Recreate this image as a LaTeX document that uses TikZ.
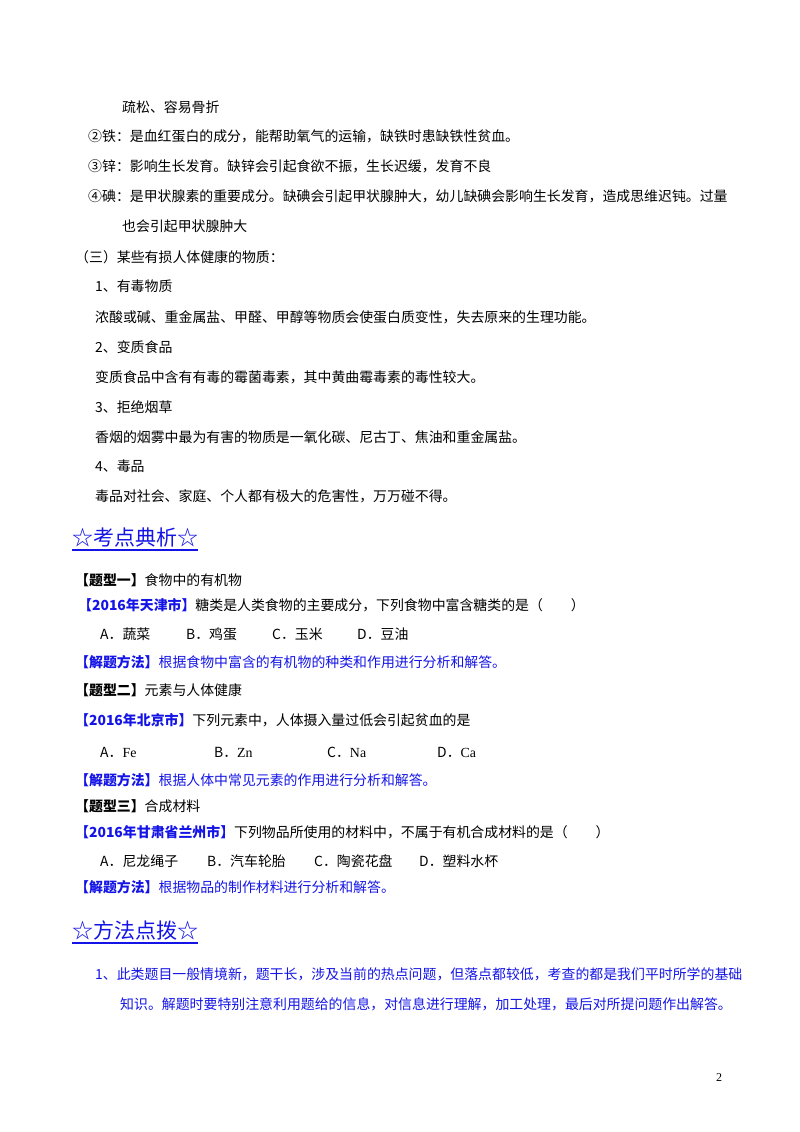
\documentclass[tikz,border=0pt]{standalone}
\usepackage{fontspec}
\setmainfont{Noto Sans CJK SC}
\newfontfamily\numf{Liberation Serif}
\definecolor{qblue}{RGB}{20,20,230}
\tikzset{t/.style={anchor=west,inner sep=0pt,font=\fontsize{13.9}{16}\selectfont},
bt/.style={t,text=qblue},
hd/.style={anchor=west,inner sep=0pt,text=qblue,font=\fontsize{21}{24}\selectfont}}
\begin{document}
\begin{tikzpicture}[x=1pt,y=-1pt]
\useasboundingbox (0,0) rectangle (800,1132);
\node[t] (l1) at (122,107) {疏松、容易骨折};
\node[t] (l2) at (88,136) {②铁：是血红蛋白的成分，能帮助氧气的运输，缺铁时患缺铁性贫血。};
\node[t] (l3) at (88,166) {③锌：影响生长发育。缺锌会引起食欲不振，生长迟缓，发育不良};
\node[t] (l4) at (88,196) {④碘：是甲状腺素的重要成分。缺碘会引起甲状腺肿大，幼儿缺碘会影响生长发育，造成思维迟钝。过量};
\node[t] (l5) at (122,226) {也会引起甲状腺肿大};
\node[t] (l6) at (75,257) {（三）某些有损人体健康的物质：};
\node[t] (l7) at (95,286) {1、有毒物质};
\node[t] (l8) at (95,317) {浓酸或碱、重金属盐、甲醛、甲醇等物质会使蛋白质变性，失去原来的生理功能。};
\node[t] (l9) at (95,347) {2、变质食品};
\node[t] (l10) at (95,377) {变质食品中含有有毒的霉菌毒素，其中黄曲霉毒素的毒性较大。};
\node[t] (l11) at (95,407) {3、拒绝烟草};
\node[t] (l12) at (95,437) {香烟的烟雾中最为有害的物质是一氧化碳、尼古丁、焦油和重金属盐。};
\node[t] (l13) at (95,466) {4、毒品};
\node[t] (l14) at (95,496) {毒品对社会、家庭、个人都有极大的危害性，万万碰不得。};
\node[hd] (h1) at (72,537) {☆考点典析☆};
\draw[qblue,line width=1.2pt] (h1.south west)++(0,3) -- ([yshift=-3pt]h1.south east);
\node[t] (a1) at (75,580) {\textbf{【题型一】}食物中的有机物};
\node[t] (a2) at (78,605) {\textcolor{qblue}{\textbf{【2016年天津市】}}糖类是人类食物的主要成分，下列食物中富含糖类的是（\quad\quad）};
\node[t] (a3a) at (100,634) {A．蔬菜};
\node[t] (a3b) at (186,634) {B．鸡蛋};
\node[t] (a3c) at (272,634) {C．玉米};
\node[t] (a3d) at (357,634) {D．豆油};
\node[bt] (a4) at (75,662) {\textbf{【解题方法】}根据食物中富含的有机物的种类和作用进行分析和解答。};
\node[t] (b1) at (75,690) {\textbf{【题型二】}元素与人体健康};
\node[t] (b2) at (75,720) {\textcolor{qblue}{\textbf{【2016年北京市】}}下列元素中，人体摄入量过低会引起贫血的是};
\node[t] (b3a) at (100,752) {A．{\numf Fe}};
\node[t] (b3b) at (214,752) {B．{\numf Zn}};
\node[t] (b3c) at (327,752) {C．{\numf Na}};
\node[t] (b3d) at (437,752) {D．{\numf Ca}};
\node[bt] (b4) at (75,780) {\textbf{【解题方法】}根据人体中常见元素的作用进行分析和解答。};
\node[t] (c1) at (75,806) {\textbf{【题型三】}合成材料};
\node[t] (c2) at (75,832) {\textcolor{qblue}{\textbf{【2016年甘肃省兰州市】}}下列物品所使用的材料中，不属于有机合成材料的是（\quad\quad）};
\node[t] (c3a) at (100,861) {A．尼龙绳子};
\node[t] (c3b) at (207,861) {B．汽车轮胎};
\node[t] (c3c) at (314,861) {C．陶瓷花盘};
\node[t] (c3d) at (419,861) {D．塑料水杯};
\node[bt] (c4) at (75,887) {\textbf{【解题方法】}根据物品的制作材料进行分析和解答。};
\node[hd] (h2) at (72,930) {☆方法点拨☆};
\draw[qblue,line width=1.2pt] (h2.south west)++(0,3) -- ([yshift=-3pt]h2.south east);
\node[bt] (d1) at (95,974) {1、此类题目一般情境新，题干长，涉及当前的热点问题，但落点都较低，考查的都是我们平时所学的基础};
\node[bt] (d2) at (120,1004) {知识。解题时要特别注意利用题给的信息，对信息进行理解，加工处理，最后对所提问题作出解答。};
\node[anchor=west,inner sep=0pt,font=\numf\fontsize{12}{14}\selectfont] (pg) at (716,1078) {2};
\end{tikzpicture}
\end{document}
